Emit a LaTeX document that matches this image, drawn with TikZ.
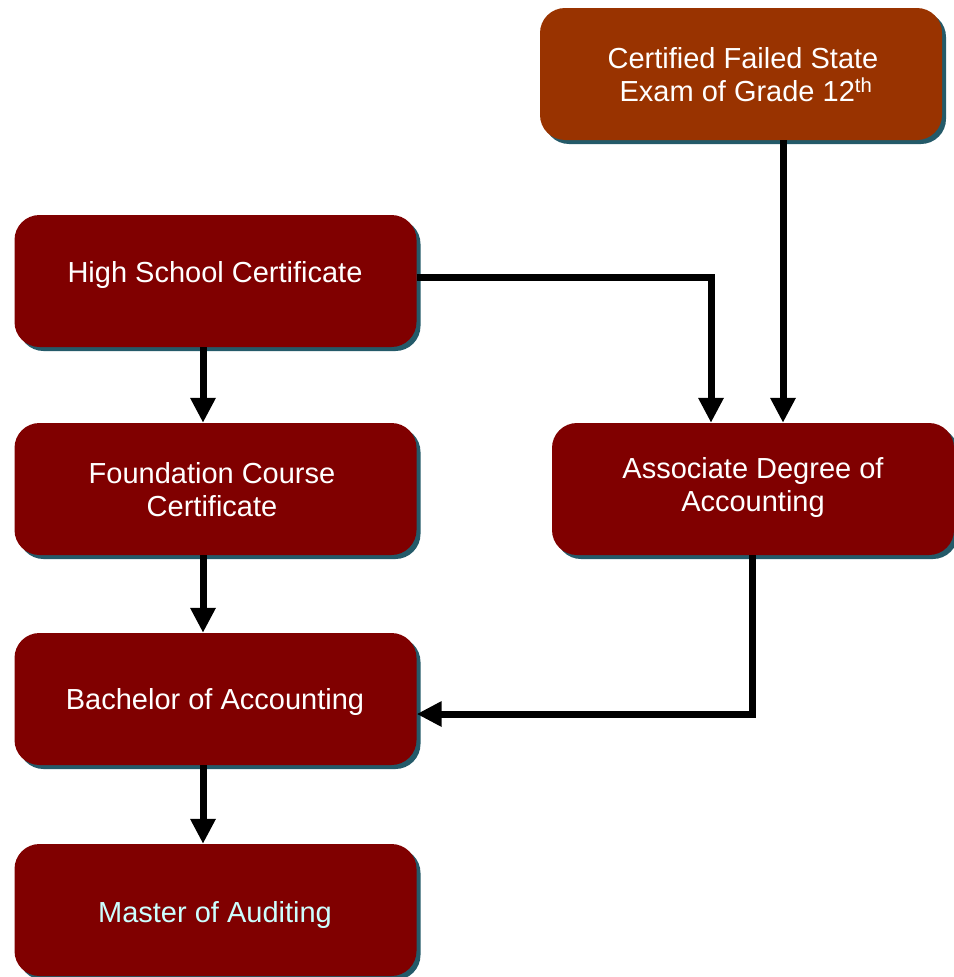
\documentclass[tikz,border=0pt]{standalone}
\usepackage{fontspec}
\setmainfont{Liberation Sans}
\usetikzlibrary{arrows.meta,shadows,calc}
\definecolor{boxred}{HTML}{800000}
\definecolor{boxrust}{HTML}{993300}
\definecolor{shadowteal}{HTML}{245A69}
\definecolor{paleCyan}{HTML}{CCFFFF}
\begin{document}
\begin{tikzpicture}[x=1pt,y=-1pt,
  box/.style={rounded corners=25pt, fill=boxred, minimum width=402pt, minimum height=132pt, inner sep=0pt,
    drop shadow={shadow xshift=4pt, shadow yshift=-4pt, fill=shadowteal, opacity=1}},
  lbl/.style={text=white, font=\fontsize{29}{33}\selectfont, align=center, inner sep=0pt},
  arr/.style={line width=7pt, -{Triangle[width=24pt,length=25pt]}}]
\useasboundingbox (0,0) rectangle (953,977);
\node[box, fill=boxrust] (cert) at (741,74) {};
\node[box] (hs) at (215.5,281) {};
\node[box] (fc) at (215.5,489) {};
\node[box] (ba) at (215.5,699) {};
\node[box] (ma) at (215.5,910) {};
\node[box] (ad) at (753,489) {};
\node[lbl] (certt) at (743,75) {Certified Failed State\\ \hspace{6pt}Exam of Grade 12\textsuperscript{th}};
\node[lbl] (hst) at (215,275) {High School Certificate};
\node[lbl] (fct) at (212,490) {Foundation Course\\Certificate};
\node[lbl] (bat) at (215,702) {Bachelor of Accounting};
\node[lbl, text=paleCyan] (mat) at (215,915) {Master of Auditing};
\node[lbl] (adt) at (753,487) {Associate Degree of\\Accounting};
\draw[arr] ([xshift=-12.5pt]hs.south) -- ([xshift=-12.5pt]fc.north);
\draw[arr] ([xshift=-12.5pt]fc.south) -- ([xshift=-12.5pt]ba.north);
\draw[arr] ([xshift=-12.5pt]ba.south) -- ([xshift=-12.5pt]ma.north);
\draw[arr] ([yshift=4pt]hs.east) -| ([xshift=-42pt]ad.north);
\draw[arr] ([xshift=42pt]cert.south) -- ([xshift=30pt]ad.north);
\draw[arr] ([xshift=-1pt]ad.south) |- ([yshift=-15pt]ba.east);
\end{tikzpicture}
\end{document}
